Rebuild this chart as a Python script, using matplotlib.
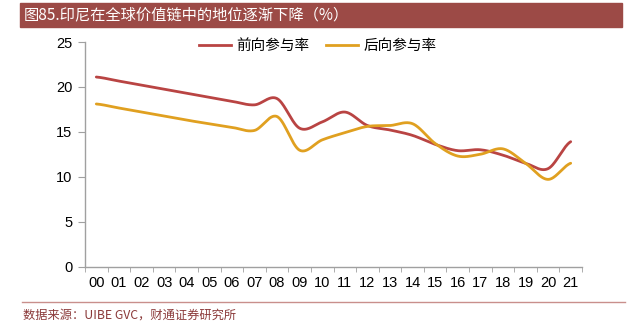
import matplotlib
matplotlib.use("Agg")
from matplotlib import pyplot as plt
from matplotlib.patches import Rectangle
from matplotlib.lines import Line2D
import numpy as np

plt.rcParams['font.family'] = ['Liberation Sans', 'Noto Sans CJK SC', 'DejaVu Sans']

years = ["00", "01", "02", "03", "04", "05", "06", "07", "08", "09", "10",
         "11", "12", "13", "14", "15", "16", "17", "18", "19", "20", "21"]
forward = [21.1, 20.65, 20.2, 19.75, 19.3, 18.85, 18.4, 18.0, 18.7, 15.4, 16.1,
           17.2, 15.7, 15.2, 14.6, 13.6, 12.9, 13.0, 12.4, 11.5, 10.9, 13.9]
backward = [18.1, 17.65, 17.2, 16.75, 16.3, 15.9, 15.5, 15.15, 16.7, 12.95, 14.1,
            14.9, 15.6, 15.7, 15.9, 13.7, 12.3, 12.5, 13.1, 11.5, 9.7, 11.5]
yticks = [0, 5, 10, 15, 20, 25]

RED = "#B94443"
GOLD = "#E0A020"
BAR = "#9C4A46"


def smooth(y, n=30):
    "Catmull-Rom curve through the points, like Excel's smoothed line"
    y = np.asarray(y, dtype=float)
    x = np.arange(len(y), dtype=float)
    p = np.concatenate([[y[0]], y, [y[-1]]])
    xs, ys = [], []
    for i in range(len(y) - 1):
        p0, p1, p2, p3 = p[i], p[i + 1], p[i + 2], p[i + 3]
        m1 = (p2 - p0) / 2
        m2 = (p3 - p1) / 2
        t = np.linspace(0, 1, n, endpoint=False)
        h00 = 2 * t**3 - 3 * t**2 + 1
        h10 = t**3 - 2 * t**2 + t
        h01 = -2 * t**3 + 3 * t**2
        h11 = t**3 - t**2
        xs.append(x[i] + t)
        ys.append(h00 * p1 + h10 * m1 + h01 * p2 + h11 * m2)
    xs.append([x[-1]])
    ys.append([y[-1]])
    return np.concatenate(xs), np.concatenate(ys)


fig = plt.figure(figsize=(6.32, 3.24), dpi=100)
ax = fig.add_axes([85 / 632, 1 - 266.5 / 324, (582 - 85) / 632, (266.5 - 42) / 324])

xf, yf = smooth(forward)
xb, yb = smooth(backward)
ax.plot(xf, yf, color=RED, lw=2.0, solid_capstyle='round')
ax.plot(xb, yb, color=GOLD, lw=2.0, solid_capstyle='round')

ax.set_xlim(-0.5, len(years) - 0.5)
ax.set_ylim(0, 25)
ax.set_yticks(yticks)
ax.set_xticks(range(len(years)))
ax.set_xticklabels(years)
ax.set_xticks(np.arange(-0.5, len(years), 1), minor=True)
ax.tick_params(axis='x', which='major', length=0, pad=7, labelsize=10.5)
ax.tick_params(axis='x', which='minor', length=3.5, color="#A0A0A0", direction='out')
ax.tick_params(axis='y', length=5, color="#A0A0A0", labelsize=10.5, pad=4)
for s in ['top', 'right']:
    ax.spines[s].set_visible(False)
for s in ['left', 'bottom']:
    ax.spines[s].set_color("#A0A0A0")
    ax.spines[s].set_linewidth(1.0)

handles = [Line2D([], [], color=RED, lw=2.0), Line2D([], [], color=GOLD, lw=2.0)]
ax.legend(handles, ["前向参与率", "后向参与率"], loc='center',
          bbox_to_anchor=((318 - 85) / 497, (266.5 - 46) / 224.5), borderaxespad=0,
          ncol=2, frameon=False, handlelength=2.2, handletextpad=0.35,
          columnspacing=1.15, borderpad=0,
          prop={'family': ['Noto Sans CJK SC'], 'size': 10.5})

# title bar
fig.patches.append(Rectangle((20 / 632, 1 - 27 / 324), 602 / 632, 24 / 324,
                             transform=fig.transFigure, color=BAR, zorder=0))
fig.text(24 / 632, 1 - 15 / 324, "图85.印尼在全球价值链中的地位逐渐下降（%）",
         color="white", fontsize=11, va='center', ha='left',
         family=['Noto Sans CJK SC', 'DejaVu Sans'])

# separator and source
fig.add_artist(Line2D([22 / 632, 625 / 632], [1 - 302 / 324, 1 - 302 / 324],
                      color="#C98F8C", lw=1.0, transform=fig.transFigure))
fig.text(23 / 632, 1 - 315 / 324, "数据来源：UIBE GVC，财通证券研究所",
         color="#8B3A3A", fontsize=8.8, va='center', ha='left',
         family=['Noto Sans CJK SC', 'DejaVu Sans'])

fig.savefig("out.png", dpi=100)
